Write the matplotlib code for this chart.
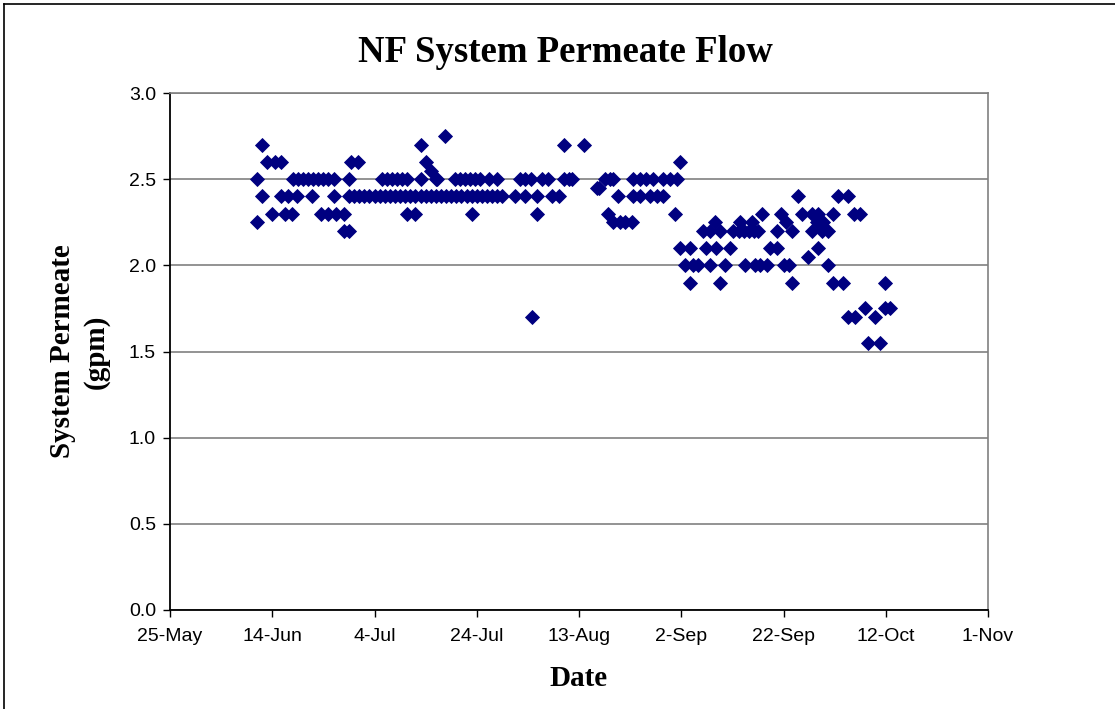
import numpy as np
import matplotlib
matplotlib.use("Agg")
import matplotlib.pyplot as plt
from matplotlib.lines import Line2D

# days after 25-May and permeate flow (gpm)
days = [
    17, 17, 18, 18, 19, 19.9, 20.5, 21.8, 21.8, 22.5, 23.1, 23.8,
    24, 24.8, 25, 26, 27, 27.7, 28, 29, 29.5, 30, 31, 31, 32, 32, 32.5,
    34, 34, 35, 35, 35, 35.5, 36.8,
    36, 37, 38, 39, 40, 41, 42, 43, 44, 45, 46, 47, 48, 49, 50, 51,
    41.4, 42.4, 43.4, 44.4, 45.4, 46.4, 46.3, 48, 49, 49, 50, 51, 52,
    52.2, 53.8, 55.7, 56.7, 57.7, 58.7, 59.7, 60.6, 62.3, 63.9,
    52, 53, 54, 55, 56, 57, 58, 59, 60, 61, 62, 63, 64, 65, 59,
    67.5, 68.5, 69.4, 69.5, 70.7, 70.8, 71.7, 71.7, 72.7, 74, 74.7, 76,
    77, 77, 78, 78.6, 81,
    83.5, 84, 85, 86, 86.7, 85.7, 87.7, 86.7, 88, 89, 90.3,
    90.6, 92, 93.2, 94.5, 96.5, 97.8, 99.1, 90.6, 92, 93.9, 95.2, 96.5,
    98.8, 99.8,
    99.8, 101.7, 104.8, 106.7, 109.5, 117.4, 118.7, 126.8,
    100.7, 102.3, 103.3, 105.6, 108.6, 112.5, 114.4, 115.4, 116.7, 120, 121,
    128.8, 101.7, 107.6, 121.6,
    104.3, 105.6, 107.6, 110.2, 111.2, 112.2, 113.2, 114.2, 115, 118.7,
    121.6, 125.5, 127.5, 128.8,
    106.6, 111.5, 113.8, 120.5, 126.5, 127.8,
    115.7, 119.6, 123.6, 125.5, 126.8, 129.7, 133.7, 135,
    122.9, 130.7, 132.7, 124.7,
    129.7, 131.7, 139.9, 136, 139.9, 140.8, 132.7, 134, 137.9, 136.6, 138.9,
]
flow = [
    2.5, 2.25, 2.7, 2.4, 2.6, 2.3, 2.6, 2.6, 2.4, 2.3, 2.4, 2.3,
    2.5, 2.4, 2.5, 2.5, 2.5, 2.4, 2.5, 2.5, 2.3, 2.5, 2.5, 2.3, 2.5, 2.4, 2.3,
    2.3, 2.2, 2.5, 2.4, 2.2, 2.6, 2.6,
    2.4, 2.4, 2.4, 2.4, 2.4, 2.4, 2.4, 2.4, 2.4, 2.4, 2.4, 2.4, 2.4, 2.4, 2.4, 2.4,
    2.5, 2.5, 2.5, 2.5, 2.5, 2.5, 2.3, 2.3, 2.7, 2.5, 2.6, 2.55, 2.5,
    2.5, 2.75, 2.5, 2.5, 2.5, 2.5, 2.5, 2.5, 2.5, 2.5,
    2.4, 2.4, 2.4, 2.4, 2.4, 2.4, 2.4, 2.4, 2.4, 2.4, 2.4, 2.4, 2.4, 2.4, 2.3,
    2.4, 2.5, 2.4, 2.5, 2.5, 1.7, 2.4, 2.3, 2.5, 2.5, 2.4, 2.4,
    2.7, 2.5, 2.5, 2.5, 2.7,
    2.45, 2.45, 2.5, 2.5, 2.5, 2.3, 2.4, 2.25, 2.25, 2.25, 2.25,
    2.5, 2.5, 2.5, 2.5, 2.5, 2.5, 2.5, 2.4, 2.4, 2.4, 2.4, 2.4,
    2.3, 2.6,
    2.1, 2.1, 2.1, 2.1, 2.1, 2.1, 2.1, 2.1,
    2.0, 2.0, 2.0, 2.0, 2.0, 2.0, 2.0, 2.0, 2.0, 2.0, 2.0,
    2.0, 1.9, 1.9, 1.9,
    2.2, 2.2, 2.2, 2.2, 2.2, 2.2, 2.2, 2.2, 2.2, 2.2,
    2.2, 2.2, 2.2, 2.2,
    2.25, 2.25, 2.25, 2.25, 2.25, 2.25,
    2.3, 2.3, 2.3, 2.3, 2.3, 2.3, 2.3, 2.3,
    2.4, 2.4, 2.4, 2.05,
    1.9, 1.9, 1.9, 1.75, 1.75, 1.75, 1.7, 1.7, 1.7, 1.55, 1.55,
]

start = np.datetime64("2004-05-25")
tick_labels = ["25-May", "14-Jun", "4-Jul", "24-Jul", "13-Aug",
               "2-Sep", "22-Sep", "12-Oct", "1-Nov"]
tick_step = 20  # days between date ticks
y_ticks = [0.0, 0.5, 1.0, 1.5, 2.0, 2.5, 3.0]

minutes = (np.array(days) * 24 * 60).round().astype("timedelta64[m]")
dates = start + minutes
tick_dates = start + np.arange(len(tick_labels)) * np.timedelta64(tick_step, "D")

serif = ["Liberation Serif", "DejaVu Serif"]
sans = ["Liberation Sans", "DejaVu Sans"]

fig = plt.figure(figsize=(11.15, 7.09), dpi=100)
ax = fig.add_axes([170 / 1115, 1 - 610 / 709, 818 / 1115, 517 / 709])

ax.plot(dates, flow, linestyle="none", marker="D", markersize=7.4,
        color="#000080", markeredgecolor="#000080", markeredgewidth=0.6,
        clip_on=False, zorder=3)

ax.set_xlim(tick_dates[0], tick_dates[-1])
ax.set_xticks(tick_dates)
ax.set_xticklabels(tick_labels, fontfamily=sans, fontsize=14)
ax.set_ylim(0, 3.0)
ax.set_yticks(y_ticks)
ax.set_yticklabels([f"{v:.1f}" for v in y_ticks], fontfamily=sans, fontsize=14)
ax.tick_params(axis="both", direction="out", length=5, width=1, color="black")
ax.tick_params(axis="x", pad=8)
ax.tick_params(axis="y", pad=5)

ax.grid(axis="y", color="#808080", linewidth=1.2)
ax.set_axisbelow(True)
for side in ["left", "bottom"]:
    ax.spines[side].set_color("black")
    ax.spines[side].set_linewidth(1.3)
for side in ["top", "right"]:
    ax.spines[side].set_color("#808080")
    ax.spines[side].set_linewidth(1.2)

ax.set_xlabel("Date", fontfamily=serif, fontsize=21, fontweight="bold", labelpad=14)
ax.set_ylabel("System Permeate\n(gpm)", fontfamily=serif, fontsize=21,
              fontweight="bold", labelpad=14, linespacing=1.3)
fig.text(565 / 1115, 1 - 52 / 709, "NF System Permeate Flow", ha="center",
         va="center", fontfamily=serif, fontsize=26.5, fontweight="bold")

# chart area border (left and top visible)
fig.add_artist(Line2D([4 / 1115, 4 / 1115], [0, 1 - 4 / 709], color="black", linewidth=1.2))
fig.add_artist(Line2D([4 / 1115, 1], [1 - 4 / 709, 1 - 4 / 709], color="black", linewidth=1.2))

fig.savefig("out.png", dpi=100, facecolor="white")
